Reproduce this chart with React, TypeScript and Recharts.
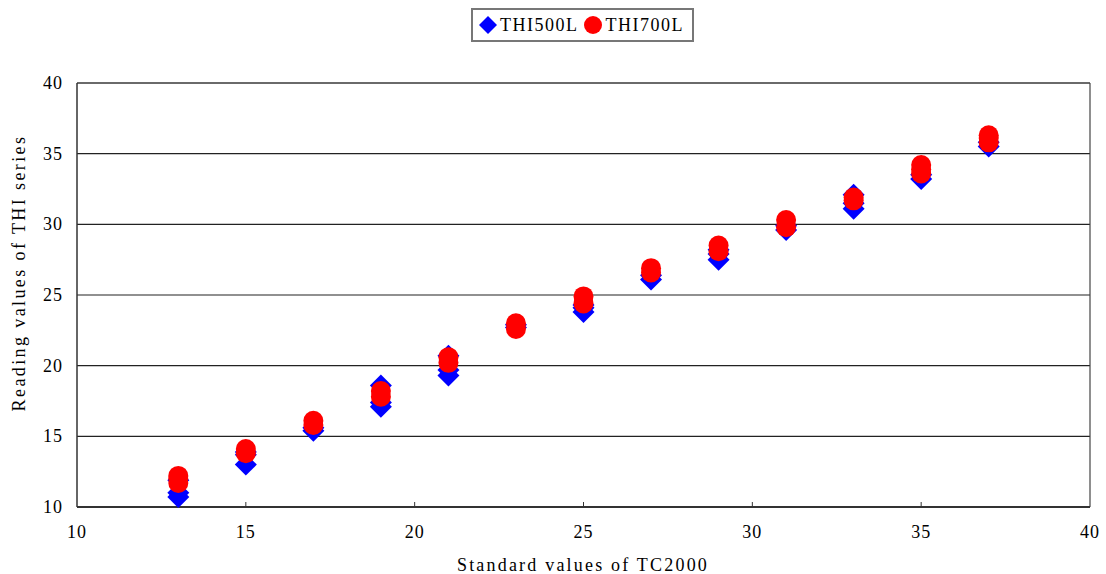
import React from 'react';
import { ScatterChart, Scatter, XAxis, YAxis, CartesianGrid, ReferenceLine, Legend } from 'recharts';

const xValues = [13, 15, 17, 19, 21, 23, 25, 27, 29, 31, 33, 35, 37];
const thi500L = [
  [10.7, 11.0, 11.9], [13.0, 13.7, 13.9], [15.4, 15.6], [17.1, 17.4, 18.6], [19.3, 19.7, 20.7],
  [22.7, 22.9], [23.8, 24.1, 24.3], [26.1, 26.4], [27.5, 27.9, 28.2], [29.6, 29.9],
  [31.1, 31.5, 32.1], [33.2, 33.5], [35.5, 35.8],
];
const thi700L = [
  [11.7, 12.0, 12.2], [13.8, 14.1], [15.8, 16.1], [17.8, 18.2], [20.2, 20.6],
  [22.6, 23.0], [24.4, 24.9], [26.6, 26.9], [28.1, 28.5], [29.8, 30.3],
  [31.7, 31.9], [33.6, 33.9, 34.2], [35.8, 36.1, 36.3],
];
const axisTicks = [10, 15, 20, 25, 30, 35, 40];
const seriesNames = ['THI500L', 'THI700L'];
const xTitle = 'Standard values of TC2000';
const yTitle = 'Reading values of THI series';

const toPoints = (vals: number[][]) =>
  xValues.flatMap((x, i) => vals[i].map((y) => ({ x, y })));

const data500 = toPoints(thi500L);
const data700 = toPoints(thi700L);

const FONT = "'Liberation Serif', 'DejaVu Serif', serif";

const Diamond = (props: any) => {
  const { cx, cy } = props;
  const h = 11;
  return <polygon points={`${cx},${cy - h} ${cx + h},${cy} ${cx},${cy + h} ${cx - h},${cy}`} fill="#0000FF" />;
};
const Dot = (props: any) => {
  const { cx, cy } = props;
  return <circle cx={cx} cy={cy} r={10} fill="#FF0000" />;
};

const XTick = (props: any) => {
  const { x, y, payload } = props;
  const v = payload.value;
  return (
    <g>
      {v > 10 && v < 40 && <line x1={x} y1={y} x2={x} y2={y - 5} stroke="#333" strokeWidth={1} />}
      <text x={x} y={y + 31} textAnchor="middle" fontFamily={FONT} fontSize={18} fill="#000" letterSpacing={1}>
        {v}
      </text>
    </g>
  );
};
const YTick = (props: any) => {
  const { x, y, payload } = props;
  return (
    <text x={x - 14} y={y + 6} textAnchor="end" fontFamily={FONT} fontSize={18} fill="#000" letterSpacing={1}>
      {payload.value}
    </text>
  );
};

const YLabel = () => (
  <text x={25} y={273} transform="rotate(-90 25 273)" textAnchor="middle" fontFamily={FONT} fontSize={18} fill="#000" letterSpacing={2.4}>
    {yTitle}
  </text>
);
const XLabel = () => (
  <text x={583} y={571} textAnchor="middle" fontFamily={FONT} fontSize={18} fill="#000" letterSpacing={2.2}>
    {xTitle}
  </text>
);

const LegendBox = () => (
  <div style={{ display: 'flex', justifyContent: 'center' }}>
    <div
      style={{
        border: '2px solid #777',
        height: 30,
        width: 219,
        display: 'flex',
        alignItems: 'center',
        fontFamily: FONT,
        fontSize: 18,
        letterSpacing: 1.5,
        color: '#000',
        boxSizing: 'content-box',
        marginLeft: 59,
      }}
    >
      <svg width={20} height={20} style={{ marginLeft: 5 }}>
        <polygon points="10,1 19,10 10,19 1,10" fill="#0000FF" />
      </svg>
      <span style={{ marginLeft: 2 }}>{seriesNames[0]}</span>
      <svg width={20} height={20} style={{ marginLeft: 5 }}>
        <circle cx={10} cy={10} r={9} fill="#FF0000" />
      </svg>
      <span style={{ marginLeft: 2 }}>{seriesNames[1]}</span>
    </div>
  </div>
);

export default function App() {
  return (
    <div style={{ position: 'absolute', left: 0, top: 0, background: '#fff' }}>
      <ScatterChart width={1106} height={574} margin={{ top: 83, right: 16, left: 0, bottom: 0 }}>
        <CartesianGrid horizontal vertical={false} stroke="#222" strokeWidth={1.2} />
        <XAxis
          type="number"
          dataKey="x"
          domain={[10, 40]}
          ticks={axisTicks}
          height={67}
          tickSize={0}
          tickMargin={0}
          tickLine={false}
          tick={<XTick />}
          axisLine={{ stroke: '#333', strokeWidth: 2 }}
          label={<XLabel />}
          interval={0}
        />
        <YAxis
          type="number"
          dataKey="y"
          domain={[10, 40]}
          ticks={axisTicks}
          width={77}
          tickSize={0}
          tickMargin={0}
          tickLine={false}
          tick={<YTick />}
          axisLine={{ stroke: '#333', strokeWidth: 1.5 }}
          label={<YLabel />}
          interval={0}
        />
        <ReferenceLine x={40} stroke="#444" strokeWidth={1.2} />
        <ReferenceLine y={40} stroke="#444" strokeWidth={1.2} />
        <Legend verticalAlign="middle" align="center" wrapperStyle={{ top: 8, left: 0, width: 1106 }} content={<LegendBox />} />
        <Scatter name={seriesNames[0]} data={data500} shape={<Diamond />} isAnimationActive={false} />
        <Scatter name={seriesNames[1]} data={data700} shape={<Dot />} isAnimationActive={false} />
      </ScatterChart>
    </div>
  );
}
